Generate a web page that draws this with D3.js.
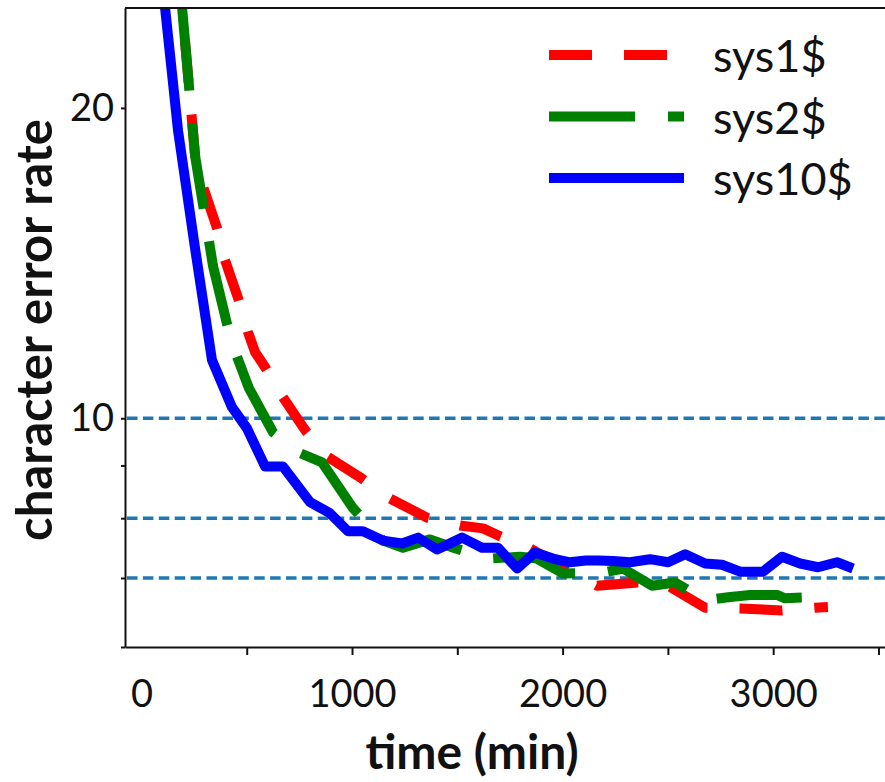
<!DOCTYPE html>
<html>
<head>
<meta charset="utf-8">
<script src="https://cdn.jsdelivr.net/npm/d3@7"></script>
<style>
  body { margin: 0; background: #fff; }
  text { font-family: Lato, "Open Sans", sans-serif; }
</style>
</head>
<body>
<svg width="885" height="782"></svg>
<script>
// sys1$ (red, dashed)
const sys1Time = [170, 255, 293, 359, 397, 459, 506, 540, 587, 672, 777, 886, 1047, 1180, 1356, 1513, 1622, 1693, 1845, 2002, 2163, 2358, 2501, 2677, 2843, 3042, 3199, 3260];
const sys1Cer  = [28.3, 17.96, 16.76, 15.29, 14.24, 13.08, 12.12, 11.59, 11.21, 10.48, 9.74, 9.17, 8.74, 8.36, 8.01, 7.87, 7.82, 7.70, 7.48, 7.17, 6.88, 6.93, 6.88, 6.55, 6.54, 6.51, 6.55, 6.56];

// sys2$ (green, long dash)
const sys2Time = [170, 255, 340, 426, 511, 625, 754, 858, 1005, 1147, 1242, 1370, 1489, 1655, 1798, 1878, 2002, 2187, 2287, 2425, 2534, 2677, 2796, 2891, 3018, 3056, 3213, 3279];
const sys2Cer  = [28.3, 17.96, 14.05, 11.88, 10.69, 9.69, 9.25, 9.06, 8.18, 7.61, 7.49, 7.63, 7.48, 7.31, 7.34, 7.31, 7.07, 7.08, 7.15, 6.88, 6.93, 6.66, 6.71, 6.74, 6.74, 6.69, 6.71, 6.81];

// sys10$ (blue, solid)
const sys10Time = [95, 174, 255, 335, 430, 501, 587, 672, 801, 895, 981, 1052, 1147, 1238, 1314, 1404, 1523, 1617, 1693, 1784, 1869, 1954, 2035, 2110, 2168, 2240, 2320, 2415, 2501, 2582, 2677, 2757, 2843, 2952, 3042, 3128, 3213, 3303, 3379];
const sys10Cer  = [27.0, 19.0, 14.6, 11.39, 10.25, 9.78, 8.98, 8.98, 8.29, 8.09, 7.77, 7.77, 7.61, 7.56, 7.66, 7.46, 7.66, 7.49, 7.49, 7.15, 7.41, 7.31, 7.25, 7.28, 7.28, 7.27, 7.25, 7.30, 7.25, 7.38, 7.23, 7.21, 7.10, 7.10, 7.34, 7.23, 7.17, 7.25, 7.15];

const refLevels = [10, 8, 7];
const xTickMarks = [500, 1000, 1500, 2000, 2500, 3000, 3500];
const xTickLabels = [0, 1000, 2000, 3000];
const yTicks = [6, 7, 8, 9, 10, 20];
const yTickLabels = [10, 20];

// dash: pattern, and the time at which one dash begins (to keep the phase)
const series = [
    { name: "sys1$", time: sys1Time, cer: sys1Cer, color: "#ff0000", dash: [43, 32], dashStart: 397 },
    { name: "sys2$", time: sys2Time, cer: sys2Cer, color: "#008000", dash: [86, 33], dashStart: 454 },
    { name: "sys10$", time: sys10Time, cer: sys10Cer, color: "#0000ff", dash: null }
];

const W = 885, H = 782;
const margin = { top: 8, right: 0, bottom: 135, left: 125 };

const svg = d3.select("svg");

const x = d3.scaleLinear().domain([-78, 3531]).range([margin.left, W - margin.right]);
const y = d3.scaleLog().domain([6, 25]).range([H - margin.bottom, margin.top]);

svg.append("defs").append("clipPath").attr("id", "plot-clip")
    .append("rect")
    .attr("x", margin.left).attr("y", margin.top)
    .attr("width", W - margin.right - margin.left)
    .attr("height", H - margin.bottom - margin.top);

// reference levels
svg.append("g")
    .selectAll("line")
    .data(refLevels)
    .enter()
    .append("line")
    .attr("x1", x.range()[0] + 2)
    .attr("x2", x.range()[1])
    .attr("y1", d => y(d))
    .attr("y2", d => y(d))
    .attr("stroke", "#1f77b4")
    .attr("stroke-width", 3.5)
    .attr("stroke-dasharray", "10.5,5.4");

// the three curves
const line = d3.line()
    .x(d => x(d[0]))
    .y(d => y(d[1]));

// pixel length along the polyline up to time t
function lengthAt(s, t) {
    let len = 0;
    for (let i = 1; i < s.time.length; i++) {
        const t0 = s.time[i - 1], t1 = Math.min(s.time[i], t);
        if (t1 <= t0) break;
        const f = (t1 - t0) / (s.time[i] - t0);
        const lv = Math.log(s.cer[i - 1]) + f * (Math.log(s.cer[i]) - Math.log(s.cer[i - 1]));
        const dx = x(t1) - x(t0), dy = y(Math.exp(lv)) - y(s.cer[i - 1]);
        len += Math.hypot(dx, dy);
    }
    return len;
}

svg.append("g")
    .attr("clip-path", "url(#plot-clip)")
    .selectAll("path")
    .data(series)
    .enter()
    .append("path")
    .attr("d", s => line(s.time.map((t, i) => [t, s.cer[i]])))
    .attr("fill", "none")
    .attr("stroke", s => s.color)
    .attr("stroke-width", 10)
    .attr("stroke-linejoin", "round")
    .attr("stroke-dasharray", s => s.dash ? s.dash.join(",") : null)
    .attr("stroke-dashoffset", s => {
        if (!s.dash) return null;
        const period = d3.sum(s.dash);
        return period - (lengthAt(s, s.dashStart) % period);
    });

// axes
const xAxis = svg.append("g")
    .attr("transform", `translate(0,${y.range()[0]})`)
    .call(d3.axisBottom(x).tickValues(xTickMarks).tickSize(8).tickSizeOuter(0).tickFormat(""));

const xLabels = svg.append("g")
    .attr("transform", `translate(0,${y.range()[0]})`)
    .call(d3.axisBottom(x).tickValues(xTickLabels).tickSize(0).tickFormat(d3.format("d")));
xLabels.select(".domain").remove();
xLabels.selectAll("text").attr("y", 60).attr("dy", 0);

const yAxis = svg.append("g")
    .attr("transform", `translate(${x.range()[0]},0)`)
    .call(d3.axisLeft(y).tickValues(yTicks).tickSize(4).tickSizeOuter(0).tickPadding(7)
        .tickFormat(d => yTickLabels.includes(d) ? d : ""));

[xAxis, xLabels, yAxis].forEach(g => {
    g.attr("font-family", null).attr("font-size", null);
    g.selectAll(".domain").attr("stroke", "#111").attr("stroke-width", 2);
    g.selectAll(".tick line").attr("stroke", "#111").attr("stroke-width", 2);
    g.selectAll("text").style("font-size", "38px").style("fill", "#111");
});

// top spine
svg.append("line")
    .attr("x1", x.range()[0]).attr("x2", x.range()[1])
    .attr("y1", y.range()[1]).attr("y2", y.range()[1])
    .attr("stroke", "#111").attr("stroke-width", 2);

// axis titles
svg.append("text")
    .attr("transform", "translate(52,330) rotate(-90)")
    .attr("text-anchor", "middle")
    .style("font-size", "49px")
    .style("font-weight", "bold")
    .style("fill", "#111")
    .text("character error rate");

svg.append("text")
    .attr("x", 472)
    .attr("y", 769)
    .attr("text-anchor", "middle")
    .style("font-size", "48px")
    .style("font-weight", "bold")
    .style("fill", "#111")
    .text("time (min)");

// legend
const legend = svg.append("g").attr("transform", "translate(549,55)");
const rows = legend.selectAll("g")
    .data(series)
    .enter()
    .append("g")
    .attr("transform", (d, i) => `translate(0,${i * 61.5})`);

rows.append("line")
    .attr("x1", 0).attr("x2", 135)
    .attr("stroke", d => d.color)
    .attr("stroke-width", 10)
    .attr("stroke-dasharray", d => d.dash ? d.dash.join(",") : null);

rows.append("text")
    .attr("x", 164)
    .attr("y", 17)
    .style("font-size", "45px")
    .style("fill", "#111")
    .text(d => d.name);
</script>
</body>
</html>
